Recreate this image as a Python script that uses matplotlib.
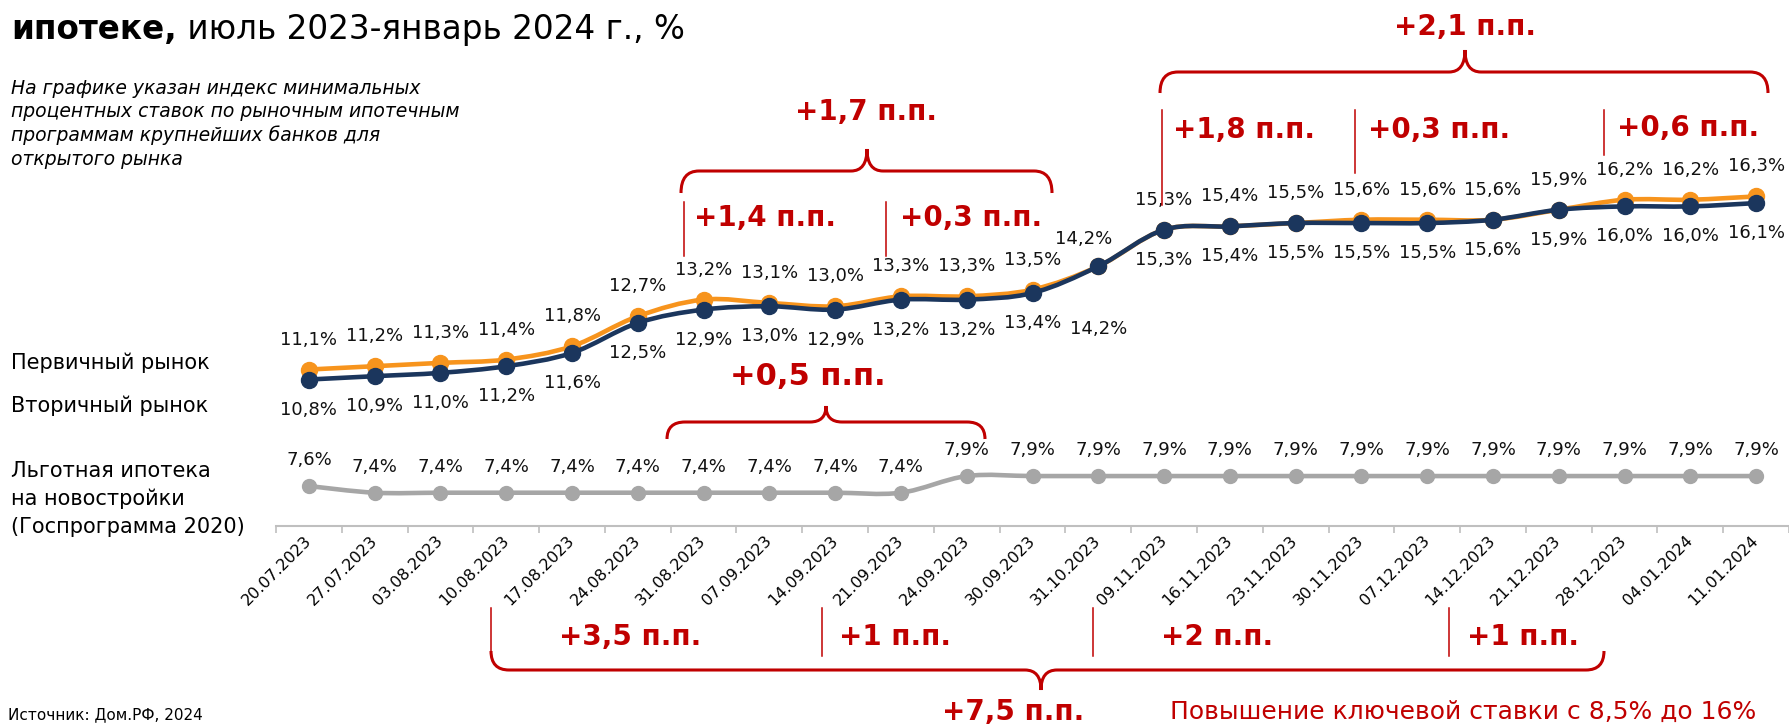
import matplotlib
matplotlib.use('Agg')
import matplotlib.pyplot as plt
from matplotlib.path import Path
from matplotlib.patches import PathPatch
import numpy as np

plt.rcParams['font.family'] = ['DejaVu Sans']

# ---- data -------------------------------------------------------------
dates = ['20.07.2023', '27.07.2023', '03.08.2023', '10.08.2023', '17.08.2023',
         '24.08.2023', '31.08.2023', '07.09.2023', '14.09.2023', '21.09.2023',
         '24.09.2023', '30.09.2023', '31.10.2023', '09.11.2023', '16.11.2023',
         '23.11.2023', '30.11.2023', '07.12.2023', '14.12.2023', '21.12.2023',
         '28.12.2023', '04.01.2024', '11.01.2024']
primary = [11.1, 11.2, 11.3, 11.4, 11.8, 12.7, 13.2, 13.1, 13.0, 13.3, 13.3, 13.5,
           14.2, 15.3, 15.4, 15.5, 15.6, 15.6, 15.6, 15.9, 16.2, 16.2, 16.3]
secondary = [10.8, 10.9, 11.0, 11.2, 11.6, 12.5, 12.9, 13.0, 12.9, 13.2, 13.2, 13.4,
             14.2, 15.3, 15.4, 15.5, 15.5, 15.5, 15.6, 15.9, 16.0, 16.0, 16.1]
gov = [7.6, 7.4, 7.4, 7.4, 7.4, 7.4, 7.4, 7.4, 7.4, 7.4, 7.9, 7.9,
       7.9, 7.9, 7.9, 7.9, 7.9, 7.9, 7.9, 7.9, 7.9, 7.9, 7.9]

ORANGE = '#F7941D'
NAVY = '#1B365D'
GRAY = '#A6A6A6'
RED = '#C00000'

W, H = 1789, 725
fig = plt.figure(figsize=(W / 100, H / 100), dpi=100)
fig.patch.set_facecolor('white')

ax = fig.add_axes([276 / W, (H - 526) / H, (W - 276) / W, 526 / H])
x = np.arange(len(dates))
ax.set_xlim(-0.5, len(dates) - 0.5)
ax.set_ylim(6.4, 22.2)


def smooth_path(xs, ys):
    # Excel-like smoothed line (Catmull-Rom as cubic Bezier)
    pts = np.column_stack([xs, ys]).astype(float)
    n = len(pts)
    verts = [pts[0]]
    codes = [Path.MOVETO]
    for i in range(n - 1):
        p0 = pts[max(i - 1, 0)]
        p1 = pts[i]
        p2 = pts[i + 1]
        p3 = pts[min(i + 2, n - 1)]
        verts += [p1 + (p2 - p0) / 6, p2 - (p3 - p1) / 6, p2]
        codes += [Path.CURVE4] * 3
    return Path(verts, codes)


def fmt(v):
    return f'{v:.1f}'.replace('.', ',') + '%'


for vals, col, lw, ms, z in [(gov, GRAY, 3.3, 10, 2),
                             (primary, ORANGE, 3.3, 11.5, 3),
                             (secondary, NAVY, 3.3, 11.5, 4)]:
    ax.add_patch(PathPatch(smooth_path(x, vals), fill=False, edgecolor=col,
                           lw=lw, capstyle='round', joinstyle='round', zorder=z))
    ax.plot(x, vals, 'o', ms=ms, color=col, zorder=z + 0.1)

for i, v in enumerate(primary):
    dx = -15 if i == 12 else 0
    dy = 27 if i == 12 else 30
    ax.annotate(fmt(v), (i, v), xytext=(dx, dy), textcoords='offset pixels',
                ha='center', va='center', fontsize=13, color='#111111')
for i, v in enumerate(secondary):
    dy = -63 if i == 12 else -30
    ax.annotate(fmt(v), (i, v), xytext=(0, dy), textcoords='offset pixels',
                ha='center', va='center', fontsize=13, color='#111111')
for i, v in enumerate(gov):
    ax.annotate(fmt(v), (i, v), xytext=(0, 26), textcoords='offset pixels',
                ha='center', va='center', fontsize=13, color='#111111')

for s in ['top', 'left', 'right']:
    ax.spines[s].set_visible(False)
ax.spines['bottom'].set_color('#BFBFBF')
ax.spines['bottom'].set_linewidth(1.5)
ax.set_xticks(x)
ax.set_xticklabels(dates, rotation=45, ha='right', va='center',
                   rotation_mode='anchor', fontsize=11.5)
ax.set_xticks(np.arange(len(dates) + 1) - 0.5, minor=True)
ax.tick_params(axis='x', which='major', length=0, pad=9)
ax.tick_params(axis='x', which='minor', length=5, width=1.2, color='#BFBFBF')
ax.tick_params(axis='y', left=False, labelleft=False)
ax.patch.set_alpha(0)

# ---- overlay for texts and braces (pixel coords, y down) ---------------
ov = fig.add_axes([0, 0, 1, 1], zorder=5)
ov.set_xlim(0, W)
ov.set_ylim(H, 0)
ov.axis('off')

t1 = ov.text(11, 29, 'ипотеке,', fontsize=23.5, fontweight='bold',
             ha='left', va='center')
ov.annotate(' июль 2023-январь 2024 г., %', xy=(1, 0), xycoords=t1,
            fontsize=23.5, ha='left', va='bottom')

note = ['На графике указан индекс минимальных',
        'процентных ставок по рыночным ипотечным',
        'программам крупнейших банков для',
        'открытого рынка']
for k, line in enumerate(note):
    ov.text(11, 88 + k * 23.7, line, fontsize=13.5, style='italic',
            ha='left', va='center')

for txt, yy in [('Первичный рынок', 363), ('Вторичный рынок', 406),
                ('Льготная ипотека', 471), ('на новостройки', 499),
                ('(Госпрограмма 2020)', 527)]:
    ov.text(11, yy, txt, fontsize=15, ha='left', va='center')


def brace(x0, x1, y_end, y_line, xtip, y_tip, r=18, r2=16, lw=2.2):
    verts = [(x0, y_end), (x0, y_line), (x0 + r, y_line),
             (xtip - r2, y_line), (xtip, y_line), (xtip, y_tip),
             (xtip, y_line), (xtip + r2, y_line),
             (x1 - r, y_line), (x1, y_line), (x1, y_end)]
    codes = [Path.MOVETO, Path.CURVE3, Path.CURVE3,
             Path.LINETO, Path.CURVE3, Path.CURVE3,
             Path.CURVE3, Path.CURVE3,
             Path.LINETO, Path.CURVE3, Path.CURVE3]
    ov.add_patch(PathPatch(Path(verts, codes), fill=False, edgecolor=RED,
                           lw=lw, capstyle='butt'))


def vline(xx, y0, y1):
    ov.plot([xx, xx], [y0, y1], color=RED, lw=1.1)


def red(xx, yy, txt, size=20, ha='left', weight='bold'):
    ov.text(xx, yy, txt, fontsize=size, fontweight=weight, color=RED,
            ha=ha, va='center')


# +1,7 group
brace(681, 1052, 193, 171, 867, 149)
red(866, 112, '+1,7 п.п.', ha='center')
vline(684, 202, 256)
red(694, 218, '+1,4 п.п.')
vline(886, 202, 256)
red(900, 218, '+0,3 п.п.')

# +2,1 group
brace(1160, 1768, 93, 72, 1465, 50)
red(1465, 27, '+2,1 п.п.', ha='center')
vline(1162, 110, 205)
red(1173, 130, '+1,8 п.п.')
vline(1355, 110, 173)
red(1368, 130, '+0,3 п.п.')
vline(1604, 110, 155)
red(1617, 128, '+0,6 п.п.')

# +0,5 group (preferential)
brace(667, 985, 439, 422, 826, 406)
red(808, 376, '+0,5 п.п.', size=22, ha='center')

# key rate group
vline(491, 608, 652)
vline(822, 608, 656)
vline(1093, 608, 656)
vline(1449, 608, 656)
red(559, 637, '+3,5 п.п.')
red(839, 637, '+1 п.п.')
red(1161, 637, '+2 п.п.')
red(1467, 637, '+1 п.п.')
brace(491, 1604, 651, 670, 1041, 690)
red(1013, 712, '+7,5 п.п.', ha='center')
red(1170, 712, 'Повышение ключевой ставки с 8,5% до 16%', size=18,
    weight='normal')

ov.text(8, 722, 'Источник: Дом.РФ, 2024', fontsize=11, ha='left', va='bottom')

fig.savefig('out.png', dpi=100, facecolor='white')
